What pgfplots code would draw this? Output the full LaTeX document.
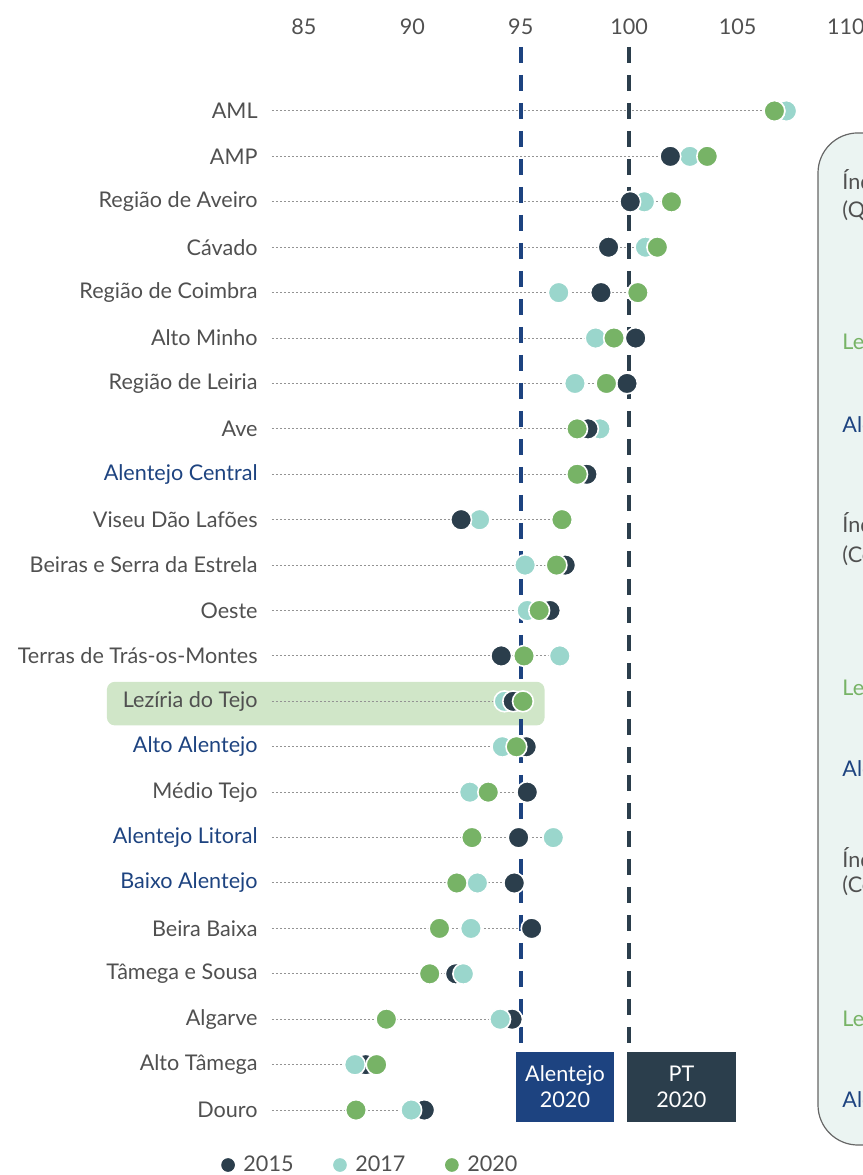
\documentclass[border=0pt]{standalone}
\usepackage{fontspec}
\setmainfont{Lato}
\usepackage{pgfplots}
\usepackage{pgfplotstable}
\pgfplotsset{compat=1.18}
\definecolor{cDark}{HTML}{2B3E4C}
\definecolor{cLight}{HTML}{9AD6CC}
\definecolor{cGreen}{HTML}{77B366}
\definecolor{cBlue}{HTML}{1D4380}
\definecolor{cText}{HTML}{505050}
\definecolor{cHi}{HTML}{D0E6C8}
\definecolor{cPanel}{HTML}{EBF4F2}

% rows: 0 = AML ... 22 = Douro
\pgfplotstableread{
y v15 v17 v20
0 106.7 107.25 106.7
1 101.9 102.8 103.6
2 100.05 100.7 101.95
3 99.05 100.75 101.3
4 98.7 96.75 100.4
5 100.3 98.45 99.3
6 99.9 97.5 98.95
7 98.1 98.65 97.6
8 98.05 97.9 97.6
9 92.25 93.1 96.9
10 97.05 95.2 96.65
11 96.35 95.3 95.85
12 94.1 96.8 95.15
13 94.65 94.25 95.1
14 95.25 94.15 94.8
15 95.3 92.65 93.5
16 94.9 96.5 92.75
17 94.7 93.0 92.05
18 95.5 92.7 91.25
19 92.0 92.35 90.8
20 94.6 94.05 88.8
21 87.85 87.35 88.35
22 90.55 89.95 87.4
}\data

% guide lines: from the label to the rightmost dot of each row
\pgfplotstableread{
x y
83.52 0
107.25 0
nan nan
83.52 1
103.6 1
nan nan
83.52 2
101.95 2
nan nan
83.52 3
101.3 3
nan nan
83.52 4
100.4 4
nan nan
83.52 5
100.3 5
nan nan
83.52 6
99.9 6
nan nan
83.52 7
98.65 7
nan nan
83.52 8
98.1 8
nan nan
83.52 9
96.9 9
nan nan
83.52 10
97.05 10
nan nan
83.52 11
96.35 11
nan nan
83.52 12
96.8 12
nan nan
83.52 13
95.1 13
nan nan
83.52 14
95.25 14
nan nan
83.52 15
95.3 15
nan nan
83.52 16
96.5 16
nan nan
83.52 17
94.7 17
nan nan
83.52 18
95.5 18
nan nan
83.52 19
92.35 19
nan nan
83.52 20
94.6 20
nan nan
83.52 21
88.35 21
nan nan
83.52 22
90.55 22
}\guides

\begin{document}
\begin{tikzpicture}[font=\fontsize{10.8}{12.5}\selectfont, text=cText]
\begin{axis}[
    set layers,
    scale only axis,
    width=431pt, height=587.5pt,
    xmin=70.98, xmax=110.74,
    ymin=-2.444, ymax=23.43,
    y dir=reverse,
    clip=false,
    axis line style={draw=none},
    major tick length=0pt,
    xtick={85,90,...,110},
    xticklabel pos=upper,
    xticklabel style={anchor=center, inner sep=0pt, yshift=-13.5pt, text=cText},
    /pgf/number format/assume math mode=true,
    ytick={0,...,22},
    yticklabels={AML, AMP, Região de Aveiro, Cávado, Região de Coimbra, Alto Minho, Região de Leiria, Ave,
      \textcolor{cBlue}{Alentejo Central}, Viseu Dão Lafões, Beiras e Serra da Estrela, Oeste,
      Terras de Trás-os-Montes, Lezíria do Tejo, \textcolor{cBlue}{Alto Alentejo}, Médio Tejo,
      \textcolor{cBlue}{Alentejo Litoral}, \textcolor{cBlue}{Baixo Alentejo}, Beira Baixa,
      Tâmega e Sousa, Algarve, Alto Tâmega, Douro},
    yticklabel style={anchor=east, inner sep=0pt, xshift=129pt, text=cText},
    legend style={at={(axis description cs:0.431,0.0085)}, anchor=center, draw=none, fill=none,
      legend columns=3, font=\fontsize{10.8}{12.5}\selectfont, text=cText,
      /tikz/every odd column/.append style={column sep=2.5pt},
      /tikz/every even column/.append style={column sep=18pt}},
    legend cell align=left,
    unbounded coords=jump,
  ]
  % highlight and side panel
  \begin{pgfonlayer}{axis background}
    \fill[cHi, rounded corners=4pt] (axis cs:75.91,12.57) rectangle (axis cs:96.1,13.53);
    \filldraw[fill=cPanel, draw=gray!80!black, line width=0.6pt, rounded corners=20pt]
      (axis cs:108.71,0.484) rectangle (axis cs:125,22.77);
  \end{pgfonlayer}

  \addlegendimage{only marks, mark=*, mark size=3.2pt, mark options={fill=cDark, draw=cDark}}
  \addlegendimage{only marks, mark=*, mark size=3.2pt, mark options={fill=cLight, draw=cLight}}
  \addlegendimage{only marks, mark=*, mark size=3.2pt, mark options={fill=cGreen, draw=cGreen}}
  \legend{2015, 2017, 2020}

  \addplot[forget plot, gray!85, line width=0.5pt, dash pattern=on 1pt off 1pt] table[x=x, y=y] {\guides};

  % reference lines
  \draw[cBlue, line width=2pt, dash pattern=on 8pt off 6pt] (axis cs:95,-1.41) -- (axis cs:95,20.55);
  \draw[cDark, line width=2pt, dash pattern=on 8pt off 6pt] (axis cs:100,-1.41) -- (axis cs:100,20.55);

  \addplot[forget plot, only marks, mark=*, mark size=5.2pt, mark options={fill=cLight, draw=white, line width=0.8pt}]
    table[x=v17, y=y] {\data};
  \addplot[forget plot, only marks, mark=*, mark size=5.2pt, mark options={fill=cDark, draw=white, line width=0.8pt}]
    table[x=v15, y=y] {\data};
  % bottom rows: 2017 dots lie over the 2015 dots
  \addplot[forget plot, only marks, mark=*, mark size=5.2pt, mark options={fill=cLight, draw=white, line width=0.8pt},
    skip coords between index={0}{19}]
    table[x=v17, y=y] {\data};
  \addplot[forget plot, only marks, mark=*, mark size=5.2pt, mark options={fill=cGreen, draw=white, line width=0.8pt}]
    table[x=v20, y=y] {\data};

  % boxes
  \fill[cBlue] (axis cs:94.78,20.72) rectangle (axis cs:99.30,22.26);
  \node[text=white, align=center, font=\fontsize{10.8}{12.8}\selectfont] at (axis cs:97.04,21.49) {Alentejo\\2020};
  \fill[cDark] (axis cs:99.9,20.72) rectangle (axis cs:104.93,22.26);
  \node[text=white, align=center, font=\fontsize{10.8}{12.8}\selectfont] at (axis cs:102.41,21.49) {PT\\2020};

  % side panel text (cut by the page edge, as in the source)
  \node[anchor=west, inner sep=0pt] at (axis cs:109.82,1.52) {Índice sintético};
  \node[anchor=west, inner sep=0pt] at (axis cs:109.82,2.20) {(Qualidade ambiental)};
  \node[anchor=west, inner sep=0pt, text=cGreen] at (axis cs:109.82,5.13) {Lezíria do Tejo};
  \node[anchor=west, inner sep=0pt, text=cBlue] at (axis cs:109.82,6.94) {Alentejo};
  \node[anchor=west, inner sep=0pt] at (axis cs:109.82,9.07) {Índice sintético};
  \node[anchor=west, inner sep=0pt] at (axis cs:109.82,9.80) {(Coesão)};
  \node[anchor=west, inner sep=0pt, text=cGreen] at (axis cs:109.82,12.75) {Lezíria do Tejo};
  \node[anchor=west, inner sep=0pt, text=cBlue] at (axis cs:109.82,14.53) {Alentejo};
  \node[anchor=west, inner sep=0pt] at (axis cs:109.82,16.43) {Índice sintético};
  \node[anchor=west, inner sep=0pt] at (axis cs:109.82,17.07) {(Competitividade)};
  \node[anchor=west, inner sep=0pt, text=cGreen] at (axis cs:109.82,20.02) {Lezíria do Tejo};
  \node[anchor=west, inner sep=0pt, text=cBlue] at (axis cs:109.82,21.82) {Alentejo};
\end{axis}
\pgfresetboundingbox
\useasboundingbox (current axis.south west) rectangle (current axis.north east);
\end{tikzpicture}
\end{document}
